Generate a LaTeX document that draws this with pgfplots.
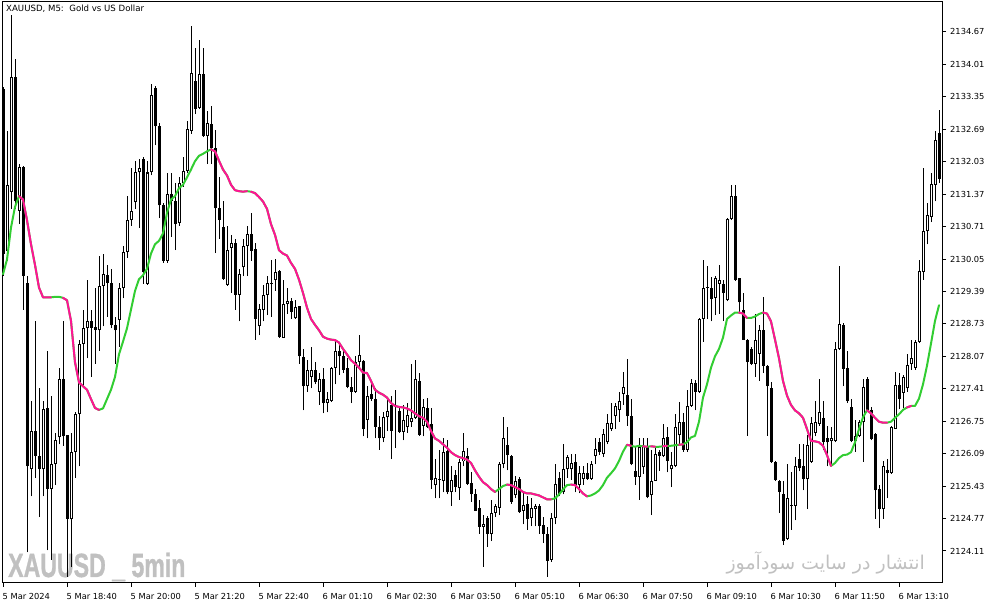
\documentclass[border=0pt]{standalone}
\usepackage{fontspec}
\setmainfont{DejaVu Sans}
\newfontfamily\wmfont{Liberation Sans}[FakeBold=1.2]
\newfontfamily\arabicfont[Script=Arabic]{DejaVu Sans}
\usepackage{graphicx}
\usepackage{pgfplots}
\usepackage{pgfplotstable}
\pgfplotsset{compat=1.18}
\TeXXeTstate=1
\definecolor{maup}{RGB}{50,205,50}
\definecolor{madn}{RGB}{255,20,147}
\definecolor{wmgray}{RGB}{192,192,192}

% XAUUSD M5 candles: bar index, open, high, low, close
\pgfplotstableread{
x o h l c
0 2133.50 2133.54 2129.70 2130.16
1 2130.22 2132.66 2130.01 2131.55
2 2131.41 2135.02 2131.07 2133.76
3 2133.75 2134.11 2131.07 2131.22
4 2131.03 2131.98 2130.76 2131.93
5 2131.93 2131.95 2129.02 2129.70
6 2129.57 2129.70 2124.08 2125.83
7 2125.77 2127.16 2125.22 2126.55
8 2126.55 2128.79 2125.60 2126.04
9 2126.04 2127.42 2124.80 2125.77
10 2125.77 2127.16 2125.22 2126.99
11 2127.01 2128.18 2124.12 2125.37
12 2125.37 2127.27 2123.93 2125.87
13 2125.87 2126.51 2125.45 2126.36
14 2126.42 2127.84 2126.28 2127.61
15 2127.61 2128.79 2126.25 2126.44
16 2126.47 2126.47 2123.59 2124.77
17 2124.75 2126.51 2123.78 2126.12
18 2126.12 2126.93 2125.60 2126.89
19 2126.89 2128.41 2125.83 2128.33
20 2128.33 2129.02 2127.42 2128.64
21 2128.64 2129.63 2128.03 2128.78
22 2128.78 2129.02 2127.65 2128.65
23 2128.66 2129.47 2127.92 2128.61
24 2128.60 2130.12 2128.18 2129.51
25 2129.51 2130.16 2128.68 2129.74
26 2129.72 2129.93 2128.87 2129.57
27 2129.57 2129.85 2128.64 2128.70
28 2128.70 2128.87 2127.92 2128.60
29 2128.81 2129.57 2128.26 2129.45
30 2129.47 2130.31 2129.25 2130.19
31 2130.19 2131.33 2130.08 2130.84
32 2130.84 2131.90 2130.73 2131.03
33 2131.20 2132.05 2131.07 2131.83
34 2131.81 2132.09 2130.69 2131.90
35 2132.09 2132.13 2129.55 2129.78
36 2129.55 2132.05 2129.53 2131.81
37 2131.81 2133.61 2131.75 2133.38
38 2133.52 2133.57 2132.36 2132.75
39 2132.75 2132.81 2130.88 2131.14
40 2131.14 2131.18 2129.97 2130.01
41 2130.01 2131.79 2129.97 2131.37
42 2131.37 2131.79 2130.50 2131.22
43 2131.22 2131.60 2130.23 2130.76
44 2130.78 2131.71 2130.73 2131.60
45 2131.60 2132.13 2131.52 2131.84
46 2131.84 2132.85 2131.79 2132.69
47 2132.66 2134.79 2132.60 2133.84
48 2133.67 2134.35 2133.00 2133.10
49 2133.12 2134.50 2133.10 2133.82
50 2133.82 2134.35 2132.53 2132.55
51 2132.55 2133.06 2131.98 2132.81
52 2132.79 2133.16 2131.98 2132.30
53 2132.30 2132.68 2130.17 2131.08
54 2131.08 2131.71 2130.46 2130.84
55 2130.70 2131.24 2129.63 2129.64
56 2129.53 2130.73 2129.51 2130.23
57 2130.27 2130.54 2129.36 2130.38
58 2130.38 2130.46 2129.02 2129.32
59 2129.32 2129.85 2128.78 2129.74
60 2129.88 2130.46 2129.70 2130.31
61 2130.31 2130.73 2129.70 2130.55
62 2130.55 2130.99 2130.01 2130.22
63 2130.25 2130.38 2128.41 2128.82
64 2128.68 2129.13 2128.50 2129.03
65 2129.02 2129.53 2128.78 2129.32
66 2129.32 2129.70 2128.91 2129.57
67 2129.55 2130.04 2128.87 2129.57
68 2129.63 2130.04 2129.40 2129.79
69 2129.80 2129.82 2128.45 2128.46
70 2128.45 2129.63 2128.44 2129.13
71 2129.13 2129.47 2128.94 2129.19
72 2129.19 2129.25 2128.83 2128.98
73 2128.84 2129.21 2128.83 2129.08
74 2129.09 2129.10 2127.92 2128.07
75 2128.05 2128.22 2126.97 2127.46
76 2127.46 2127.99 2127.35 2127.80
77 2127.65 2128.26 2127.42 2127.79
78 2127.80 2127.95 2127.50 2127.54
79 2127.35 2127.73 2127.08 2127.60
80 2127.60 2127.84 2126.91 2127.12
81 2127.12 2127.35 2126.93 2127.21
82 2127.16 2127.86 2127.14 2127.84
83 2127.84 2128.41 2127.50 2128.18
84 2128.17 2128.33 2127.69 2128.07
85 2128.07 2128.22 2127.73 2127.80
86 2127.83 2128.03 2127.42 2127.45
87 2127.45 2127.65 2127.12 2127.35
88 2127.35 2128.07 2127.33 2127.95
89 2127.95 2128.50 2127.84 2128.09
90 2127.97 2127.99 2126.44 2126.60
91 2126.78 2127.46 2126.40 2127.27
92 2127.31 2127.54 2127.16 2127.20
93 2127.20 2127.42 2126.40 2126.64
94 2126.64 2126.85 2126.17 2126.40
95 2126.40 2126.93 2126.32 2126.83
96 2126.83 2127.20 2126.55 2126.95
97 2127.08 2127.27 2125.98 2126.55
98 2127.06 2127.39 2126.21 2127.08
99 2126.95 2127.04 2126.51 2126.54
100 2126.54 2127.08 2126.36 2126.78
101 2126.63 2127.12 2126.51 2126.88
102 2126.73 2127.92 2126.63 2126.82
103 2126.82 2127.99 2126.80 2127.60
104 2127.57 2127.73 2126.45 2126.47
105 2126.66 2127.20 2126.44 2127.04
106 2127.02 2127.23 2126.62 2126.64
107 2126.70 2127.01 2125.37 2125.56
108 2125.45 2125.98 2125.18 2125.60
109 2125.56 2126.17 2125.18 2125.58
110 2125.53 2126.40 2125.30 2126.13
111 2126.15 2126.36 2125.26 2125.30
112 2125.30 2125.83 2125.03 2125.56
113 2125.66 2125.75 2125.30 2125.41
114 2125.39 2125.98 2125.15 2125.93
115 2125.93 2126.51 2125.83 2126.15
116 2126.04 2126.21 2125.45 2125.47
117 2125.49 2125.71 2125.11 2125.26
118 2125.26 2125.37 2124.92 2124.93
119 2124.98 2125.15 2124.46 2124.60
120 2124.60 2124.84 2123.79 2124.65
121 2124.79 2124.82 2124.20 2124.45
122 2124.45 2125.15 2124.31 2124.88
123 2124.88 2125.07 2124.80 2125.03
124 2124.99 2125.91 2124.84 2125.87
125 2125.87 2126.83 2125.79 2126.40
126 2126.26 2126.63 2125.75 2126.06
127 2126.04 2126.06 2125.07 2125.11
128 2125.24 2125.64 2125.18 2125.54
129 2125.58 2125.62 2124.88 2124.90
130 2124.93 2125.33 2124.65 2125.05
131 2125.07 2125.22 2124.54 2124.77
132 2124.78 2125.18 2124.61 2124.98
133 2124.96 2125.07 2124.61 2125.03
134 2125.03 2125.07 2124.46 2124.61
135 2124.64 2124.80 2124.27 2124.46
136 2124.45 2124.60 2123.59 2123.91
137 2123.93 2124.88 2123.89 2124.78
138 2124.78 2125.87 2124.65 2125.47
139 2125.60 2125.71 2125.22 2125.26
140 2125.30 2126.28 2125.26 2125.77
141 2125.77 2126.06 2125.60 2126.02
142 2125.77 2126.09 2125.56 2125.90
143 2125.92 2126.09 2125.30 2125.45
144 2125.45 2125.83 2125.28 2125.69
145 2125.58 2125.83 2125.46 2125.69
146 2125.69 2125.90 2125.56 2125.58
147 2125.58 2125.94 2125.56 2125.88
148 2126.04 2126.40 2125.87 2126.19
149 2126.32 2126.40 2126.06 2126.12
150 2126.09 2126.59 2126.02 2126.49
151 2126.32 2126.89 2126.28 2126.72
152 2126.59 2127.12 2126.55 2126.72
153 2126.85 2127.12 2126.59 2127.06
154 2126.97 2127.35 2126.74 2127.16
155 2127.31 2127.76 2127.08 2127.45
156 2127.29 2128.01 2126.66 2126.85
157 2126.85 2127.20 2125.85 2125.87
158 2125.74 2126.25 2125.45 2125.62
159 2125.62 2126.40 2125.15 2126.23
160 2125.81 2126.40 2125.68 2126.25
161 2126.25 2126.40 2125.18 2125.20
162 2125.24 2126.17 2124.84 2125.54
163 2125.54 2126.25 2125.53 2126.09
164 2126.12 2126.17 2125.74 2126.04
165 2126.04 2126.69 2126.02 2126.40
166 2126.42 2126.63 2125.71 2125.94
167 2125.77 2126.13 2125.41 2125.85
168 2125.83 2126.89 2125.81 2126.63
169 2126.46 2127.14 2126.28 2126.74
170 2126.73 2126.91 2126.13 2126.17
171 2126.17 2127.39 2126.13 2127.06
172 2127.06 2127.61 2127.04 2127.52
173 2127.52 2127.59 2126.97 2127.35
174 2127.35 2128.85 2127.33 2128.83
175 2128.83 2130.04 2128.37 2129.47
176 2129.47 2129.91 2128.83 2129.49
177 2129.47 2129.69 2128.78 2129.23
178 2129.26 2129.70 2128.91 2129.66
179 2129.55 2129.93 2128.94 2129.63
180 2129.55 2129.63 2128.79 2129.36
181 2129.21 2130.88 2129.19 2130.86
182 2130.86 2131.56 2130.84 2131.33
183 2131.33 2131.55 2129.61 2129.63
184 2129.66 2129.67 2128.94 2129.17
185 2129.02 2129.36 2128.41 2128.41
186 2128.41 2128.42 2126.45 2127.95
187 2128.22 2128.26 2127.89 2127.92
188 2127.92 2128.94 2127.65 2128.41
189 2128.12 2128.71 2127.57 2128.60
190 2128.60 2129.28 2127.73 2127.88
191 2127.88 2127.89 2126.45 2127.46
192 2127.42 2127.54 2125.90 2125.92
193 2125.92 2125.94 2125.53 2125.56
194 2125.54 2125.56 2124.88 2125.31
195 2125.26 2125.53 2124.23 2124.31
196 2124.35 2125.87 2124.33 2125.18
197 2125.03 2125.71 2124.54 2125.05
198 2125.03 2126.02 2124.73 2125.83
199 2125.98 2126.28 2125.73 2125.79
200 2125.83 2126.28 2125.34 2125.58
201 2125.58 2126.47 2124.96 2126.27
202 2125.92 2126.83 2125.90 2126.72
203 2126.51 2127.16 2126.44 2126.73
204 2126.70 2127.61 2126.66 2126.93
205 2126.82 2127.16 2126.17 2126.32
206 2126.40 2126.66 2125.83 2126.32
207 2126.34 2126.63 2125.83 2126.40
208 2126.34 2128.37 2126.32 2128.22
209 2128.22 2129.91 2128.20 2128.73
210 2128.71 2128.75 2127.46 2127.82
211 2127.84 2128.18 2127.12 2127.16
212 2127.03 2127.21 2126.32 2126.34
213 2126.34 2126.78 2126.13 2126.44
214 2126.44 2126.78 2126.42 2126.74
215 2126.74 2127.61 2125.92 2127.44
216 2127.61 2127.65 2126.95 2126.97
217 2126.98 2127.04 2126.36 2126.38
218 2126.49 2126.51 2124.77 2125.34
219 2125.37 2125.45 2124.57 2124.96
220 2124.96 2125.94 2124.77 2125.83
221 2125.75 2125.98 2125.18 2125.69
222 2125.69 2126.66 2125.68 2126.63
223 2126.60 2127.76 2126.59 2127.48
224 2127.48 2127.73 2126.99 2127.20
225 2127.33 2127.69 2127.01 2127.65
226 2127.42 2128.11 2127.35 2127.90
227 2127.91 2128.40 2127.80 2128.03
228 2127.84 2128.41 2127.80 2128.37
229 2128.37 2130.02 2128.35 2129.80
230 2129.79 2131.90 2129.63 2130.61
231 2130.61 2131.18 2130.35 2130.95
232 2130.90 2131.79 2130.80 2131.58
233 2131.56 2132.65 2131.22 2132.47
234 2132.62 2133.08 2131.60 2131.68
}\candles

% moving average line
\pgfplotstableread{
x m
0 2129.74
1 2130.04
2 2130.69
3 2131.11
4 2131.33
5 2131.26
6 2130.84
7 2130.35
8 2129.93
9 2129.47
10 2129.27
11 2129.27
12 2129.27
13 2129.28
14 2129.28
15 2129.26
16 2129.21
17 2128.79
18 2127.95
19 2127.54
20 2127.46
21 2127.39
22 2127.20
23 2127.02
24 2126.98
25 2127.01
26 2127.20
27 2127.39
28 2127.65
29 2128.11
30 2128.37
31 2128.64
32 2129.02
33 2129.40
34 2129.64
35 2129.72
36 2129.85
37 2130.16
38 2130.35
39 2130.42
40 2130.57
41 2130.99
42 2131.26
43 2131.33
44 2131.49
45 2131.56
46 2131.71
47 2131.87
48 2132.04
49 2132.15
50 2132.19
51 2132.24
52 2132.28
53 2132.24
54 2132.05
55 2131.87
56 2131.75
57 2131.56
58 2131.45
59 2131.43
60 2131.42
61 2131.43
62 2131.42
63 2131.39
64 2131.31
65 2131.22
66 2131.07
67 2130.76
68 2130.54
69 2130.23
70 2130.16
71 2130.12
72 2129.97
73 2129.85
74 2129.63
75 2129.36
76 2129.06
77 2128.83
78 2128.71
79 2128.60
80 2128.47
81 2128.43
82 2128.41
83 2128.40
84 2128.35
85 2128.22
86 2128.11
87 2127.99
88 2127.92
89 2127.84
90 2127.74
91 2127.73
92 2127.57
93 2127.39
94 2127.33
95 2127.29
96 2127.23
97 2127.12
98 2127.06
99 2127.04
100 2127.03
101 2127.01
102 2126.97
103 2126.91
104 2126.85
105 2126.82
106 2126.74
107 2126.55
108 2126.40
109 2126.35
110 2126.28
111 2126.21
112 2126.12
113 2126.06
114 2126.02
115 2126.00
116 2125.97
117 2125.90
118 2125.75
119 2125.62
120 2125.51
121 2125.45
122 2125.37
123 2125.31
124 2125.37
125 2125.43
126 2125.46
127 2125.45
128 2125.41
129 2125.37
130 2125.31
131 2125.28
132 2125.28
133 2125.26
134 2125.24
135 2125.20
136 2125.16
137 2125.16
138 2125.18
139 2125.26
140 2125.36
141 2125.45
142 2125.46
143 2125.45
144 2125.37
145 2125.28
146 2125.22
147 2125.24
148 2125.28
149 2125.34
150 2125.45
151 2125.60
152 2125.69
153 2125.79
154 2125.94
155 2126.13
156 2126.27
157 2126.25
158 2126.23
159 2126.25
160 2126.24
161 2126.23
162 2126.24
163 2126.23
164 2126.23
165 2126.24
166 2126.25
167 2126.25
168 2126.26
169 2126.27
170 2126.28
171 2126.32
172 2126.42
173 2126.45
174 2126.74
175 2127.23
176 2127.50
177 2127.84
178 2128.07
179 2128.22
180 2128.45
181 2128.83
182 2128.90
183 2128.96
184 2128.96
185 2128.94
186 2128.85
187 2128.85
188 2128.88
189 2128.93
190 2128.96
191 2128.94
192 2128.78
193 2128.41
194 2128.03
195 2127.57
196 2127.27
197 2127.08
198 2126.97
199 2126.91
200 2126.82
201 2126.59
202 2126.35
203 2126.34
204 2126.32
205 2126.25
206 2126.06
207 2125.84
208 2125.90
209 2126.00
210 2126.06
211 2126.07
212 2126.12
213 2126.32
214 2126.59
215 2126.83
216 2126.97
217 2126.91
218 2126.82
219 2126.74
220 2126.72
221 2126.72
222 2126.74
223 2126.82
224 2126.89
225 2126.98
226 2127.03
227 2127.06
228 2127.06
229 2127.21
230 2127.50
231 2127.88
232 2128.33
233 2128.79
234 2129.11
}\ma

\pgfplotsset{
  wick/.style={draw=none, mark=none, forget plot,
    error bars/.cd, y dir=plus, y explicit, error mark=none,
    error bar style={draw=black, line width=1pt, line cap=butt}},
  body/.style={draw=none, mark=none, forget plot,
    error bars/.cd, y dir=plus, y explicit, error mark=none,
    error bar style={draw=#1, line width=3pt, line cap=butt}},
  inner/.style={draw=none, mark=none, forget plot,
    error bars/.cd, y dir=plus, y explicit, error mark=none,
    error bar style={draw=white, line width=1pt, line cap=butt}},
  maline/.style={#1, line width=2pt, mark=none, line join=round, line cap=round, forget plot},
}

\begin{document}
\begin{tikzpicture}
\path (-2pt,-22pt) rectangle (992pt,583pt);
\node[anchor=base west, inner sep=0pt, text=wmgray] at (6pt,6pt)
  {\scalebox{0.69}[1]{\wmfont\bfseries\fontsize{33.5}{36}\selectfont XAUUSD \_ 5min}};
\node[anchor=base east, inner sep=0pt, text=wmgray] at (923pt,13pt)
  {\arabicfont\fontsize{19}{23}\selectfont\beginR انتشار در سایت سودآموز\endR};
\begin{axis}[
  at={(0pt,0pt)}, anchor=south west,
  scale only axis, width=940pt, height=581pt,
  xmin=-0.25, xmax=234.75,
  ymin=2123.458, ymax=2135.279,
  axis line style={black, line width=1pt},
  tick align=outside, xtick pos=bottom, ytick pos=right,
  yticklabel pos=right,
  major tick length=4pt,
  tick style={black, line width=1pt},
  xtick={0,16,32,48,64,80,96,112,128,144,160,176,192,208,224},
  xticklabels={5 Mar 2024,5 Mar 18:40,5 Mar 20:00,5 Mar 21:20,5 Mar 22:40,6 Mar 01:10,6 Mar 02:30,6 Mar 03:50,6 Mar 05:10,6 Mar 06:30,6 Mar 07:50,6 Mar 09:10,6 Mar 10:30,6 Mar 11:50,6 Mar 13:10},
  ytick={2124.11,2124.77,2125.43,2126.09,2126.75,2127.41,2128.07,2128.73,2129.39,2130.05,2130.71,2131.37,2132.03,2132.69,2133.35,2134.01,2134.67},
  yticklabels={2124.11,2124.77,2125.43,2126.09,2126.75,2127.41,2128.07,2128.73,2129.39,2130.05,2130.71,2131.37,2132.03,2132.69,2133.35,2134.01,2134.67},
  xticklabel style={anchor=north west, inner sep=0pt, yshift=-6pt, xshift=-0.5pt},
  yticklabel style={anchor=west, inner sep=0pt, xshift=4pt},
  ticklabel style={font=\fontsize{8.3}{10}\selectfont},
]
% wicks
\addplot[wick] table[x=x, y=l, y error plus expr=\thisrow{h}-\thisrow{l}] {\candles};
% bodies (black outline / fill)
\addplot[body=black] table[x=x, y expr={min(\thisrow{o},\thisrow{c})},
  y error plus expr={max(abs(\thisrow{c}-\thisrow{o}),0.0204)}] {\candles};
% hollow interior of bullish candles
\addplot[inner] table[x=x, y expr={\thisrow{o}+0.0204},
  y error plus expr={max(\thisrow{c}-\thisrow{o}-0.0408,0)}] {\candles};
% moving average, green rising / pink falling
\addplot[maline=maup] table[x=x, y=m] {\ma};
\addplot[maline=madn, restrict x to domain=4:12] table[x=x, y=m] {\ma};
\addplot[maline=madn, restrict x to domain=15:24] table[x=x, y=m] {\ma};
\addplot[maline=madn, restrict x to domain=52:61] table[x=x, y=m] {\ma};
\addplot[maline=madn, restrict x to domain=62:123] table[x=x, y=m] {\ma};
\addplot[maline=madn, restrict x to domain=126:137] table[x=x, y=m] {\ma};
\addplot[maline=madn, restrict x to domain=142:146] table[x=x, y=m] {\ma};
\addplot[maline=madn, restrict x to domain=156:157] table[x=x, y=m] {\ma};
\addplot[maline=madn, restrict x to domain=160:161] table[x=x, y=m] {\ma};
\addplot[maline=madn, restrict x to domain=162:163] table[x=x, y=m] {\ma};
\addplot[maline=madn, restrict x to domain=165:166] table[x=x, y=m] {\ma};
\addplot[maline=madn, restrict x to domain=169:170] table[x=x, y=m] {\ma};
\addplot[maline=madn, restrict x to domain=184:186] table[x=x, y=m] {\ma};
\addplot[maline=madn, restrict x to domain=190:207] table[x=x, y=m] {\ma};
\addplot[maline=madn, restrict x to domain=216:221] table[x=x, y=m] {\ma};
\addplot[maline=madn, restrict x to domain=226:227] table[x=x, y=m] {\ma};
\end{axis}
\node[anchor=west, inner sep=0pt, font=\fontsize{8.6}{10}\selectfont] at (4pt,574pt)
  {XAUUSD, M5:\ \ Gold vs US Dollar};
\end{tikzpicture}
\end{document}
